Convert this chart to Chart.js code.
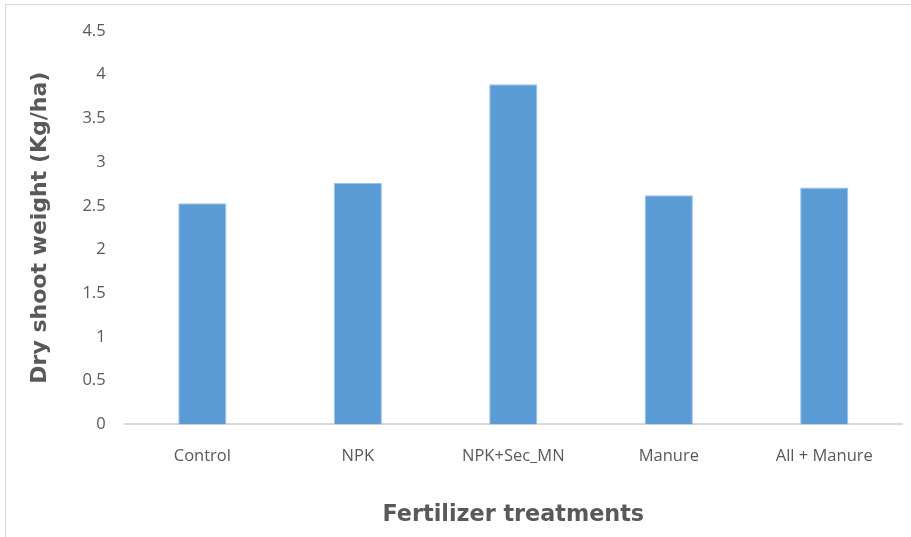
<!DOCTYPE html>
<html>
<head>
<meta charset="utf-8">
<script src="https://cdn.jsdelivr.net/npm/chart.js@4.4.0/dist/chart.umd.min.js"></script>
<style>
    html, body { margin: 0; padding: 0; background: #fff; overflow: hidden; }
    #frame {
        position: absolute; left: 5px; top: 4px;
        width: 910px; height: 540px;
        border-left: 1px solid #d9d9d9; border-top: 1px solid #d9d9d9;
    }
    #box { position: absolute; left: 0; top: -3px; width: 905px; height: 535px; }
</style>
</head>
<body>
<div id="frame"><div id="box"><canvas id="myChart"></canvas></div></div>
<script>
const treatments = ['Control', 'NPK', 'NPK+Sec_MN', 'Manure', 'All + Manure'];
const dryWeight = [2.53, 2.76, 3.89, 2.62, 2.71];
const yTicks = [0, 0.5, 1, 1.5, 2, 2.5, 3, 3.5, 4, 4.5];

const grey = '#595959';

const displayGraph = () => {

    const data = {
        labels: treatments,
        datasets: [{
            data: dryWeight,
            backgroundColor: '#5b9bd5',
            borderColor: '#9dc3e6',
            borderWidth: { top: 1, left: 1, right: 1, bottom: 0 },
            barPercentage: 0.31,
            categoryPercentage: 1
        }]
    };//data

    const config = {
        type: 'bar',
        data: data,
        options: {
            responsive: true,
            maintainAspectRatio: false,
            animation: false,
            layout: { padding: { top: 10, right: 9, bottom: 8, left: 21 } },
            plugins: {
                legend: { display: false },
                tooltip: { enabled: false }
            },
            scales: {
                x: {
                    grid: { display: false, drawTicks: false },
                    border: { display: true, color: '#d9d9d9', width: 2 },
                    ticks: {
                        color: grey,
                        padding: 22,
                        font: { family: 'Open Sans', size: 16.5 }
                    },
                    title: {
                        display: true,
                        text: 'Fertilizer treatments',
                        color: grey,
                        padding: { top: 14, bottom: 0 },
                        font: { family: 'DejaVu Sans', size: 22.3, weight: 'bold' }
                    }
                },
                y: {
                    min: 0,
                    max: 4.5,
                    afterBuildTicks: (axis) => {
                        axis.ticks = yTicks.map(v => ({ value: v }));
                    },
                    grid: { display: false, drawTicks: false },
                    border: { display: false },
                    ticks: {
                        color: grey,
                        padding: 19,
                        font: { family: 'Open Sans', size: 16.5 },
                        callback: function (value) {
                            return String(value);
                        }
                    },
                    title: {
                        display: true,
                        text: 'Dry shoot weight (Kg/ha)',
                        color: grey,
                        padding: { top: 0, bottom: 10 },
                        font: { family: 'DejaVu Sans', size: 22, weight: 'bold' }
                    }
                }
            }
        }//options
    };//config

    const myChart = new Chart(
        document.getElementById('myChart'),
        config
    );
}

displayGraph();
</script>
</body>
</html>
